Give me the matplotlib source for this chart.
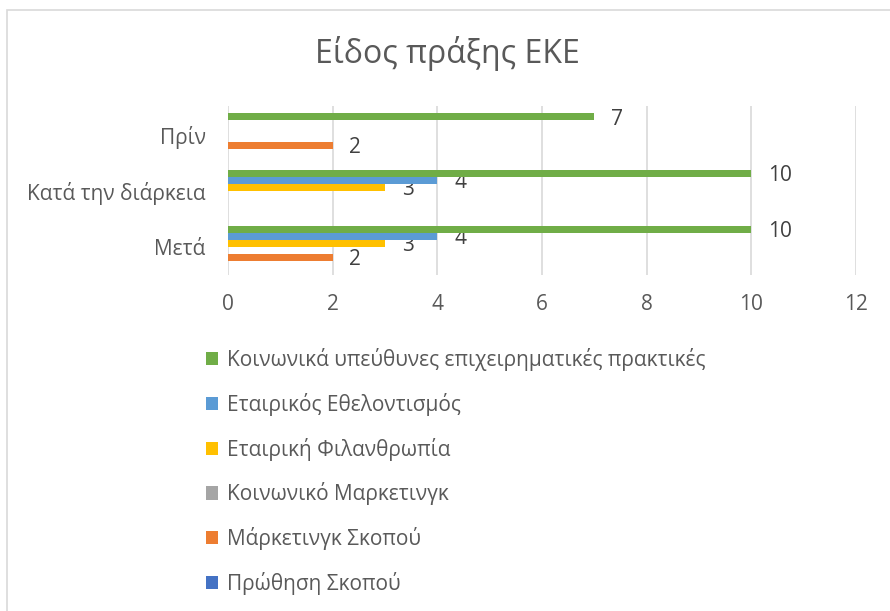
import numpy as np
import matplotlib
matplotlib.use('Agg')
import matplotlib.pyplot as plt
from matplotlib.patches import Rectangle

plt.rcParams['font.family'] = ['Open Sans', 'DejaVu Sans']

# data
categories = ['Μετά', 'Κατά την διάρκεια', 'Πρίν']
series_names = ['Πρώθηση Σκοπού', 'Μάρκετινγκ Σκοπού', 'Κοινωνικό Μαρκετινγκ',
                'Εταιρική Φιλανθρωπία', 'Εταιρικός Εθελοντισμός',
                'Κοινωνικά υπεύθυνες επιχειρηματικές πρακτικές']
promotion = [0, 0, 0]
cause_marketing = [2, 0, 2]
social_marketing = [0, 0, 0]
philanthropy = [3, 3, 0]
volunteering = [4, 4, 0]
responsible = [10, 10, 7]
colors = ['#4472C4', '#ED7D31', '#A5A5A5', '#FFC000', '#5B9BD5', '#70AD47']

series = [promotion, cause_marketing, social_marketing, philanthropy, volunteering, responsible]

fig = plt.figure(figsize=(8.9, 6.11), dpi=100)
ax = fig.add_axes([0.2562, 0.5507, 0.7056, 0.275])

y = np.arange(len(categories))
h = 0.125
bars = []
for i, (vals, name, c) in enumerate(zip(series, series_names, colors)):
    b = ax.barh(y + (i - 2.5) * h, vals, height=h, color=c, label=name, zorder=3)
    bars.append(b)
    for rect, v in zip(b, vals):
        if v:
            ax.annotate(str(v), (v, rect.get_y() + h / 2), xytext=(12, -2),
                        textcoords='offset points', ha='left', va='center',
                        fontsize=15, color='#404040')

ax.set_xlim(0, 12)
ax.set_ylim(-0.5, 2.5)
ax.set_xticks(range(0, 13, 2))
ax.set_yticks(y)
ax.set_yticklabels(categories)
ax.grid(axis='x', color='#D9D9D9', linewidth=1.2, zorder=0)
for s in ax.spines.values():
    s.set_visible(False)
ax.tick_params(axis='both', length=0, labelsize=15, labelcolor='#595959')
ax.tick_params(axis='x', pad=14)
ax.tick_params(axis='y', pad=16)

fig.text(0.503, 0.913, 'Είδος πράξης ΕΚΕ', ha='center', va='center',
         fontsize=23, color='#595959')

handles = bars[::-1]
fig.legend(handles, series_names[::-1], loc='upper left',
           bbox_to_anchor=(0.222, 0.444), frameon=False, fontsize=15,
           labelcolor='#595959', handlelength=0.6, handleheight=0.6,
           handletextpad=0.4, labelspacing=1.045, borderaxespad=0)

# chart border (only top and left edges visible)
fig.patches.append(Rectangle((7 / 890, -0.1), 1.2, 1.1 - 9.5 / 611,
                             transform=fig.transFigure, fill=False,
                             edgecolor='#D9D9D9', linewidth=1.2))

fig.savefig('out.png', dpi=100)
